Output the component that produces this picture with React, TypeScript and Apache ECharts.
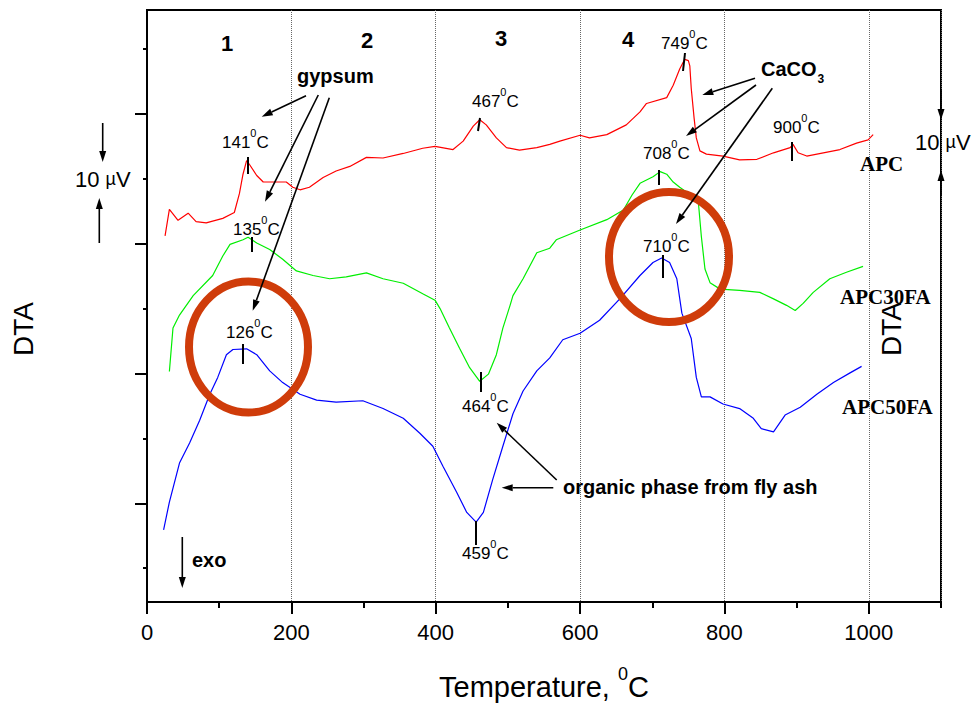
import React, { useEffect, useRef } from 'react';
import * as echarts from 'echarts';

// ---- data (temperature in °C, DTA signal in arbitrary µV-scaled units) ----
const apcTemp = [25, 31, 43, 57, 68, 82, 105, 121, 128, 133, 138, 142, 152, 161, 175, 193, 202, 212, 225, 244, 262, 281, 304, 327, 355, 382, 399, 424, 438, 452, 461, 470, 484, 498, 516, 540, 558, 572, 600, 613, 637, 664, 683, 692, 720, 729, 738, 745, 750, 752, 754, 758, 761, 766, 775, 798, 821, 845, 868, 891, 895, 902, 914, 937, 960, 983, 999, 1006];
const apcDta = [41.2, 45.3, 43.6, 44.7, 43.4, 43.2, 43.9, 44.8, 47.7, 50.7, 52.8, 52.2, 50.5, 49.5, 49.5, 49.5, 48.7, 48.3, 48.7, 50.2, 51.2, 51.9, 53.3, 53.2, 53.9, 54.7, 55.0, 54.5, 55.8, 58.1, 59.1, 58.3, 56.3, 54.8, 54.4, 54.8, 55.3, 55.8, 56.7, 56.3, 56.8, 58.3, 60.3, 61.6, 62.5, 64.4, 66.9, 68.4, 68.2, 67.4, 63.9, 59.3, 56.3, 54.3, 53.8, 53.5, 52.9, 53.0, 54.0, 54.8, 55.3, 54.0, 53.5, 54.0, 54.5, 55.5, 56.0, 56.8];

const apc30Temp = [31, 36, 45, 64, 91, 105, 115, 133, 140, 152, 170, 188, 207, 230, 253, 276, 304, 327, 355, 382, 399, 406, 419, 433, 447, 461, 473, 484, 493, 503, 507, 521, 540, 558, 567, 600, 637, 660, 672, 683, 701, 711, 720, 729, 738, 757, 764, 768, 773, 780, 794, 821, 849, 868, 886, 898, 909, 923, 946, 969, 992];
const apc30Dta = [20.3, 27.0, 29.0, 32.0, 35.1, 38.1, 39.9, 40.6, 41.0, 40.1, 39.1, 37.6, 35.8, 35.1, 34.6, 34.9, 35.5, 34.6, 33.9, 32.3, 31.3, 30.0, 27.0, 23.9, 20.9, 18.8, 19.9, 22.9, 27.0, 30.5, 32.0, 34.6, 38.6, 39.3, 40.6, 42.1, 43.7, 45.2, 47.5, 49.3, 50.3, 51.1, 50.7, 49.5, 48.7, 47.2, 46.2, 41.1, 36.1, 34.0, 33.0, 32.8, 32.5, 31.5, 30.5, 29.7, 30.8, 32.5, 34.6, 35.6, 36.5];

const apc50Temp = [23, 31, 45, 59, 73, 87, 98, 110, 119, 138, 152, 170, 188, 212, 235, 262, 299, 327, 355, 378, 396, 410, 429, 443, 456, 466, 479, 493, 507, 521, 540, 558, 576, 600, 627, 655, 683, 701, 713, 724, 734, 741, 754, 761, 768, 780, 798, 821, 840, 851, 868, 884, 905, 928, 951, 974, 990];
const apc50Dta = [-4.1, 0.2, 6.2, 9.3, 12.8, 16.8, 19.4, 22.9, 23.7, 23.8, 22.9, 20.4, 18.6, 16.8, 15.9, 15.6, 15.8, 14.6, 13.1, 10.8, 8.8, 5.7, 1.7, -1.4, -2.9, -1.4, 3.7, 8.8, 13.8, 17.3, 20.4, 22.4, 25.2, 26.2, 28.2, 31.5, 35.1, 37.1, 37.8, 37.1, 34.6, 29.3, 25.4, 19.4, 16.4, 16.4, 15.3, 14.6, 13.1, 11.5, 11.0, 13.6, 14.8, 16.8, 18.6, 20.1, 21.1];

const seriesNames = ['APC', 'APC30FA', 'APC50FA'];
const regionLabels = ['1', '2', '3', '4'];
const peakLabels = [141, 135, 126, 467, 464, 459, 749, 708, 710, 900];
const yMajorTicks = [0, 20, 40, 60];
const yMinorTicks = [-10, 10, 30, 50, 70];

// ---- layout (pixels) ----
const regionPos = [[227, 43], [367, 40], [501, 38], [628, 39]];
const peakLabelPos = [[222, 142], [233, 229], [226, 332], [472, 101], [462, 406], [462, 553], [661, 43], [643, 153], [643, 246], [773, 127]];
const peakTickPos = [[248, 157, 248, 174], [252, 237, 252, 252], [243, 344, 243, 364], [480, 118, 478, 131], [481, 372, 481, 392], [476, 521, 476, 545], [685, 53, 683, 71], [659, 170, 659, 185], [663, 255, 663, 278], [792, 142, 792, 161]];

const SANS = 'Arial, "Liberation Sans", Helvetica, sans-serif';
const SERIF = '"Times New Roman", "Liberation Serif", serif';

const zip = (t: number[], v: number[]) => t.map((x, i) => [x, v[i]]);

function arrow(x1: number, y1: number, x2: number, y2: number, head = 11, hw = 3.5): any[] {
  const a = Math.atan2(y2 - y1, x2 - x1);
  const bx = x2 - head * Math.cos(a);
  const by = y2 - head * Math.sin(a);
  const px = -Math.sin(a) * hw;
  const py = Math.cos(a) * hw;
  return [
    { type: 'line', z: 100, shape: { x1, y1, x2: bx, y2: by }, style: { stroke: '#000', lineWidth: 1.6 } },
    { type: 'polygon', z: 100, shape: { points: [[x2, y2], [bx + px, by + py], [bx - px, by - py]] }, style: { fill: '#000' } },
  ];
}

function txt(text: string, x: number, y: number, size: number, opts: any = {}): any {
  return {
    type: 'text',
    z: 100,
    rotation: opts.rotation || 0,
    x: opts.rotation ? x : 0,
    y: opts.rotation ? y : 0,
    style: {
      text,
      x: opts.rotation ? 0 : x,
      y: opts.rotation ? 0 : y,
      fontSize: size,
      fontFamily: opts.family || SANS,
      fontWeight: opts.weight || 'normal',
      fill: '#000',
      align: opts.align || 'left',
      verticalAlign: 'middle',
      rich: opts.rich,
    },
  };
}

const degRich = {
  n: { fontSize: 17, fontFamily: SANS, fill: '#000', padding: [6, 0, 0, 0] },
  s: { fontSize: 11, fontFamily: SANS, fill: '#000', verticalAlign: 'top' },
};

function buildGraphics(): any[] {
  const g: any[] = [];
  // circles
  g.push({ type: 'ellipse', z: 90, shape: { cx: 248.5, cy: 347, rx: 59.5, ry: 65.5 }, style: { fill: 'none', stroke: '#cf3c0a', lineWidth: 8 } });
  g.push({ type: 'ellipse', z: 90, shape: { cx: 669, cy: 257, rx: 60, ry: 65 }, style: { fill: 'none', stroke: '#cf3c0a', lineWidth: 8 } });
  // region numbers
  regionLabels.forEach((r, i) => g.push(txt(r, regionPos[i][0], regionPos[i][1], 22, { weight: 'bold', align: 'center' })));
  // peak labels + tick marks
  peakLabels.forEach((p, i) => {
    g.push(txt(`{n|${p}}{s|0}{n|C}`, peakLabelPos[i][0], peakLabelPos[i][1] - 3, 17, { rich: degRich }));
    const [x1, y1, x2, y2] = peakTickPos[i];
    g.push({ type: 'line', z: 100, shape: { x1, y1, x2, y2 }, style: { stroke: '#000', lineWidth: 2 } });
  });
  // annotations
  g.push(txt('gypsum', 297, 76, 20, { weight: 'bold' }));
  g.push(...arrow(306, 95.7, 261.7, 116.7));
  g.push(...arrow(318.3, 95, 265, 201.7));
  g.push(...arrow(329.3, 97.7, 252.7, 310.7));

  g.push(txt('{b|CaCO}{c|3}', 761, 72, 20, {
    weight: 'bold',
    rich: {
      b: { fontSize: 20, fontWeight: 'bold', fontFamily: SANS, fill: '#000', padding: [0, 0, 6, 0] },
      c: { fontSize: 12, fontWeight: 'bold', fontFamily: SANS, fill: '#000', verticalAlign: 'bottom', padding: [0, 0, 0, 1] },
    },
  }));
  g.push(...arrow(755, 78.3, 702.3, 95));
  g.push(...arrow(756, 85, 686, 136));
  g.push(...arrow(772.3, 88.3, 676, 224));

  g.push(txt('organic phase from fly ash', 563, 486.5, 20, { weight: 'bold' }));
  g.push(...arrow(553.3, 487.7, 501.7, 487.7));
  g.push(...arrow(556.7, 480, 496.7, 422.7));

  g.push(txt('exo', 192, 560, 20, { weight: 'bold' }));
  g.push(...arrow(182.3, 537, 182.3, 588));

  g.push(txt('10 {u|µ}V', 75, 179, 22, { rich: { u: { fontSize: 18, fontFamily: SANS, fill: '#000' } } }));
  g.push(...arrow(102.7, 123, 102.7, 162));
  g.push(...arrow(99.3, 243, 99.3, 198));

  g.push(txt('10 {u|µ}V', 915, 142, 22, { rich: { u: { fontSize: 18, fontFamily: SANS, fill: '#000' } } }));
  g.push(...arrow(941, 90, 941, 120, 11, 3.5));
  g.push(...arrow(941, 195, 941, 170, 11, 3.5));

  g.push(txt(seriesNames[0], 860, 164, 21, { family: SERIF, weight: 'bold' }));
  g.push(txt(seriesNames[1], 840, 297, 21, { family: SERIF, weight: 'bold' }));
  g.push(txt(seriesNames[2], 842, 407, 21, { family: SERIF, weight: 'bold' }));

  g.push(txt('DTA', 23, 329, 28, { rotation: Math.PI / 2, align: 'center' }));
  g.push(txt('DTA', 891, 329, 28, { rotation: Math.PI / 2, align: 'center' }));
  return g;
}

export default function App() {
  const ref = useRef<HTMLDivElement>(null);
  useEffect(() => {
    if (!ref.current) return;
    const chart = echarts.init(ref.current, null, { renderer: 'svg' });
    const yCommon = { type: 'value', min: -15.2, max: 76, position: 'left', axisLabel: { show: false }, splitLine: { show: false } };
    chart.setOption({
      animation: false,
      backgroundColor: '#fff',
      grid: { left: 147, top: 10, width: 794, height: 601, show: true, borderColor: '#000', borderWidth: 2, backgroundColor: 'transparent' },
      xAxis: [
        {
          type: 'value', min: 0, max: 1100, interval: 200, position: 'bottom',
          axisLine: { show: true, onZero: false, lineStyle: { color: '#000', width: 2 } },
          axisTick: { show: true, length: 12, lineStyle: { color: '#000', width: 2 } },
          axisLabel: { show: true, fontSize: 22, fontFamily: SANS, color: '#000', margin: 19, showMaxLabel: false, formatter: (v: number) => String(v) },
          splitLine: { show: true, lineStyle: { type: 'dotted', color: '#666', width: 1 } },
          name: '{t|Temperature, }{s|0}{t|C}',
          nameLocation: 'middle',
          nameGap: 63,
          nameTextStyle: {
            fontSize: 29, fontFamily: SANS, color: '#000',
            rich: {
              t: { fontSize: 29, fontFamily: SANS, color: '#000', padding: [7, 0, 0, 0] },
              s: { fontSize: 18, fontFamily: SANS, color: '#000', verticalAlign: 'top' },
            },
          },
        },
        {
          type: 'value', min: 0, max: 1100, interval: 100, position: 'bottom',
          axisLine: { show: false, onZero: false },
          axisTick: { show: true, length: 6, lineStyle: { color: '#000', width: 2 } },
          axisLabel: { show: false },
          splitLine: { show: false },
        },
      ],
      yAxis: [
        {
          ...yCommon,
          axisLine: { show: true, onZero: false, lineStyle: { color: '#000', width: 2 } },
          axisTick: { show: true, length: 12, customValues: yMajorTicks, lineStyle: { color: '#000', width: 2 } },
        },
        {
          ...yCommon,
          axisLine: { show: false, onZero: false },
          axisTick: { show: true, length: 4, customValues: yMinorTicks, lineStyle: { color: '#000', width: 2 } },
        },
      ],
      series: [
        { name: seriesNames[0], type: 'line', data: zip(apcTemp, apcDta), showSymbol: false, symbol: 'none', lineStyle: { color: '#ff0000', width: 1.2 }, itemStyle: { color: '#ff0000' }, xAxisIndex: 0, yAxisIndex: 0 },
        { name: seriesNames[1], type: 'line', data: zip(apc30Temp, apc30Dta), showSymbol: false, symbol: 'none', lineStyle: { color: '#00ee00', width: 1.2 }, itemStyle: { color: '#00ee00' }, xAxisIndex: 0, yAxisIndex: 0 },
        { name: seriesNames[2], type: 'line', data: zip(apc50Temp, apc50Dta), showSymbol: false, symbol: 'none', lineStyle: { color: '#0000ff', width: 1.2 }, itemStyle: { color: '#0000ff' }, xAxisIndex: 0, yAxisIndex: 0 },
      ],
      graphic: buildGraphics(),
    });
    return () => chart.dispose();
  }, []);
  return <div ref={ref} style={{ position: 'fixed', left: 0, top: 0, width: 975, height: 706, background: '#fff' }} />;
}
